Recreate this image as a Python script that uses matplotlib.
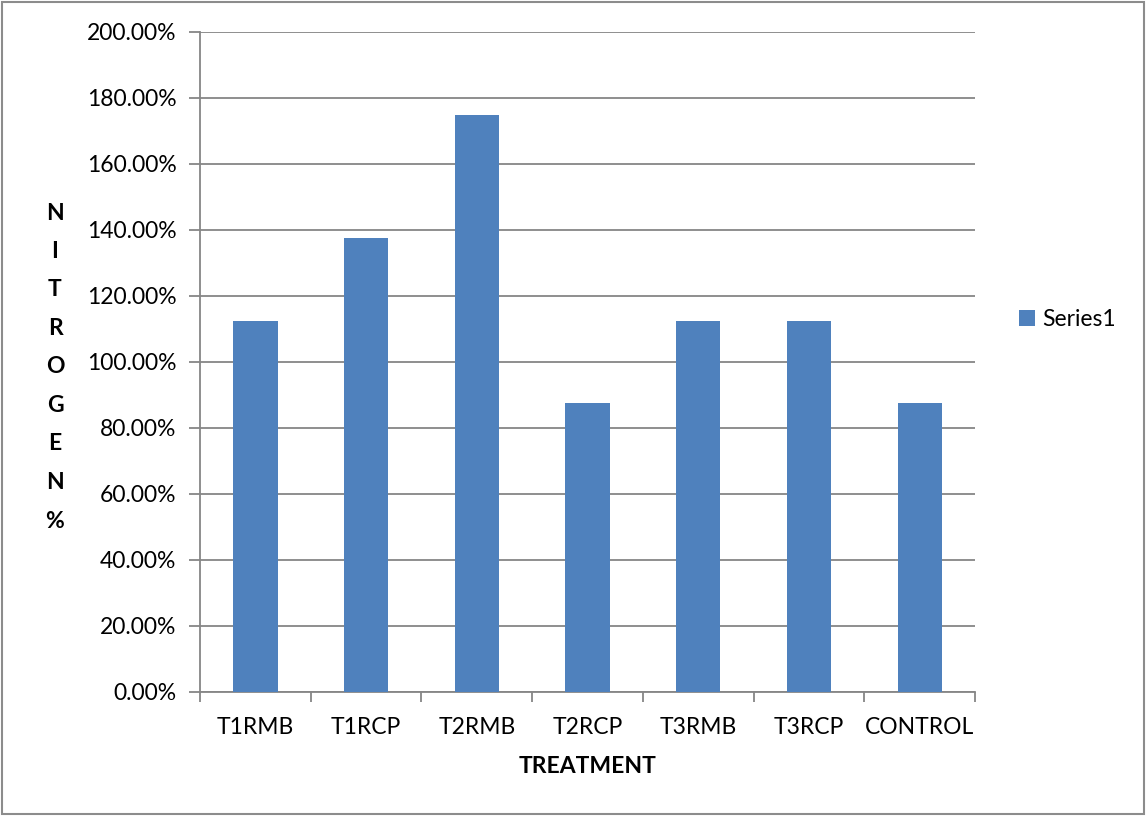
import matplotlib.pyplot as plt
from matplotlib.patches import Rectangle
from matplotlib.ticker import FuncFormatter

plt.rcParams['font.family'] = ['Lato', 'DejaVu Sans']

# data
treatments = ["T1RMB", "T1RCP", "T2RMB", "T2RCP", "T3RMB", "T3RCP", "CONTROL"]
nitrogen = [1.125, 1.375, 1.75, 0.875, 1.125, 1.125, 0.875]
series_name = "Series1"
ylabel_letters = ["N", "I", "T", "R", "O", "G", "E", "N", "%"]

bar_color = "#4f81bd"
grid_color = "#868686"
fs = 16.5

fig = plt.figure(figsize=(11.47, 8.16), dpi=100)
fig.patches.append(Rectangle((0.002, 0.003), 0.995, 0.994, transform=fig.transFigure,
                             fill=False, edgecolor="#8c8c8c", linewidth=1.5))

ax = fig.add_axes([200 / 1147, 1 - 692 / 816, 775 / 1147, 660 / 816])
x = range(len(treatments))
ax.bar(x, nitrogen, width=0.4, color=bar_color, label=series_name, zorder=3)

ax.set_xlim(-0.5, len(treatments) - 0.5)
ax.set_ylim(0, 2.0)
ax.set_yticks([i * 0.2 for i in range(11)])
ax.yaxis.set_major_formatter(FuncFormatter(lambda v, p: f"{v * 100:.2f}%"))
ax.set_xticks(list(x))
ax.set_xticklabels(treatments)
ax.set_xticks([i - 0.5 for i in range(len(treatments) + 1)], minor=True)

ax.grid(axis="y", color=grid_color, linewidth=1.3, zorder=0)
for s in ["top", "right"]:
    ax.spines[s].set_visible(False)
for s in ["left", "bottom"]:
    ax.spines[s].set_color(grid_color)
    ax.spines[s].set_linewidth(1.3)

ax.tick_params(axis="y", which="major", length=8, width=1.3, color=grid_color,
               labelsize=fs, pad=9)
ax.tick_params(axis="x", which="major", length=0, labelsize=fs, pad=18)
ax.tick_params(axis="x", which="minor", length=7, width=1.3, color=grid_color)

ax.set_xlabel("TREATMENT", fontsize=fs, fontweight="bold", labelpad=13)

# stacked vertical y label
for i, ch in enumerate(ylabel_letters):
    fig.text(55 / 1147, 1 - (213 + i * 38.5) / 816, ch, fontsize=fs, fontweight="bold",
             ha="center", va="center")

ax.legend(loc="center left", bbox_to_anchor=(1.03, 0.565), frameon=False, fontsize=fs,
          handlelength=0.7, handleheight=0.7, handletextpad=0.3)

fig.savefig("out.png", dpi=100)
